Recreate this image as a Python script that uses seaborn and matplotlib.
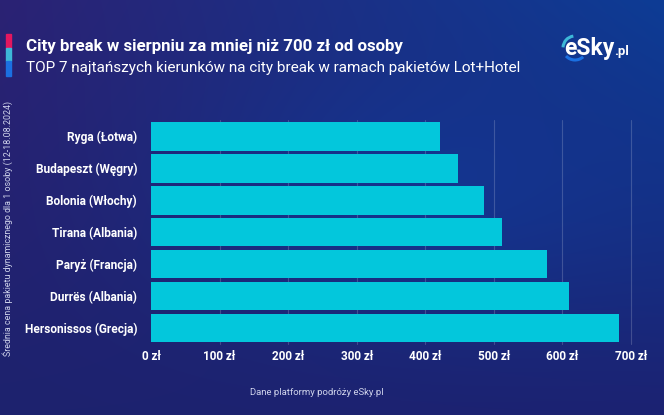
import numpy as np
import pandas as pd
import matplotlib
matplotlib.use('Agg')
import matplotlib.pyplot as plt
import seaborn as sns
from matplotlib.patches import Arc, Rectangle

# data
cities = ['Ryga (Łotwa)', 'Budapeszt (Węgry)', 'Bolonia (Włochy)', 'Tirana (Albania)',
          'Paryż (Francja)', 'Durrës (Albania)', 'Hersonissos (Grecja)']
prices = [421, 448, 485, 512, 578, 610, 682]
ticks = [0, 100, 200, 300, 400, 500, 600, 700]
tick_labels = ['0 zł', '100 zł', '200 zł', '300 zł', '400 zł', '500 zł', '600 zł', '700 zł']

TITLE = 'City break w sierpniu za mniej niż 700 zł od osoby'
SUBTITLE = 'TOP 7 najtańszych kierunków na city break w ramach pakietów Lot+Hotel'
YLABEL = 'Średnia cena pakietu dynamicznego dla 1 osoby (12-18.08.2024)'
SOURCE = 'Dane platformy podróży eSky.pl'

df = pd.DataFrame({'city': cities, 'price': prices})

sns.set_theme(style='white')
plt.rcParams['font.family'] = ['Roboto', 'DejaVu Sans']

fig = plt.figure(figsize=(6.64, 4.15), dpi=100)

# background gradient (4 corners)
bg = fig.add_axes([0, 0, 1, 1], zorder=-10)
tl = np.array([0x2b, 0x22, 0x74]) / 255
tr = np.array([0x0d, 0x3c, 0x95]) / 255
bl = np.array([0x1d, 0x22, 0x6e]) / 255
br = np.array([0x1c, 0x22, 0x72]) / 255
u = np.linspace(0, 1, 200)[None, :, None]
v = np.linspace(0, 1, 130)[:, None, None]
img = (1 - v) * ((1 - u) * tl + u * tr) + v * ((1 - u) * bl + u * br)
# soft brighter area in the middle
cx = np.exp(-((u - 0.65) ** 2) / 0.1 - ((v - 0.45) ** 2) / 0.08)
img = img + cx * (np.array([0x12, 0x38, 0x95]) / 255 - img) * 0.7
bg.imshow(np.clip(img, 0, 1), aspect='auto', extent=[0, 1, 0, 1], interpolation='bilinear')
bg.set_xlim(0, 1)
bg.set_ylim(0, 1)
bg.axis('off')

ax = fig.add_axes([0.2274, 0.171, 0.9503 - 0.2274, 0.5394])
ax.patch.set_alpha(0)
sns.barplot(data=df, x='price', y='city', color='#03c7dc', saturation=1, width=0.9,
            linewidth=0, ax=ax, zorder=3)

ax.set_xlim(0, 700)
ax.set_xticks(ticks)
ax.set_xticklabels(tick_labels)
for x in ticks[1:]:
    ax.axvline(x, color='white', alpha=0.18, lw=0.8, zorder=1, clip_on=False)
ax.tick_params(axis='x', colors='white', labelsize=8.5, length=0, pad=4)
ax.tick_params(axis='y', colors='white', labelsize=8.6, length=0, pad=10)
for lab in ax.get_xticklabels() + ax.get_yticklabels():
    lab.set_fontweight('bold')
ax.set_xlabel('')
ax.set_ylabel('')
sns.despine(ax=ax, left=True, bottom=True)

# header
fig.patches.append(Rectangle((6 / 664, 1 - 48 / 415), 5 / 664, 14 / 415, transform=fig.transFigure, color='#e3175f'))
fig.patches.append(Rectangle((6 / 664, 1 - 61 / 415), 5 / 664, 13 / 415, transform=fig.transFigure, color='#3db8d8'))
fig.patches.append(Rectangle((6 / 664, 1 - 76 / 415), 5 / 664, 15 / 415, transform=fig.transFigure, color='#1b70e2'))
fig.text(26 / 664, 1 - 47 / 415, TITLE, color='white', fontsize=12.2, fontweight='bold', va='center', ha='left')
fig.text(26 / 664, 1 - 68 / 415, SUBTITLE, color='white', fontsize=11, va='center', ha='left')

# logo
fig.text(564 / 664, 1 - 48 / 415, 'eSky', color='white', fontsize=16.5, fontweight='bold', va='center', ha='left')
fig.text(614 / 664, 1 - 51 / 415, '.pl', color='white', fontsize=9.5, fontweight='bold', va='center', ha='left')
fig.patches.append(Arc((575 / 664, 1 - 48 / 415), 24 / 664, 24 / 415, theta1=95, theta2=175,
                       transform=fig.transFigure, color='#3db8d8', lw=2.2))
fig.patches.append(Arc((575 / 664, 1 - 48 / 415), 24 / 664, 24 / 415, theta1=235, theta2=300,
                       transform=fig.transFigure, color='#1b70e2', lw=2.2))

# side label and source
fig.text(8 / 664, 1 - 228 / 415, YLABEL, color='#d0d4ec', fontsize=6.4, rotation=90, va='center', ha='center')
fig.text(317 / 664, 1 - 392 / 415, SOURCE, color='#d0d4ec', fontsize=6.8, va='center', ha='center')

fig.savefig('out.png', dpi=100)
